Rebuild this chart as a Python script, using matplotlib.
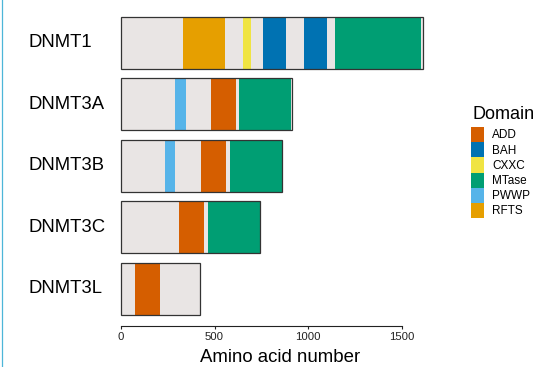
import matplotlib
matplotlib.use("Agg")
import matplotlib.pyplot as plt
from matplotlib.patches import Patch
from matplotlib.lines import Line2D

plt.rcParams['font.family'] = ['Liberation Sans', 'DejaVu Sans']

# ---- data ----
proteins = ["DNMT1", "DNMT3A", "DNMT3B", "DNMT3C", "DNMT3L"]
lengths = [1616, 912, 861, 742, 422]

dom_protein = ["DNMT1", "DNMT1", "DNMT1", "DNMT1", "DNMT1",
               "DNMT3A", "DNMT3A", "DNMT3A",
               "DNMT3B", "DNMT3B", "DNMT3B",
               "DNMT3C", "DNMT3C",
               "DNMT3L"]
dom_name = ["RFTS", "CXXC", "BAH", "BAH", "MTase",
            "PWWP", "ADD", "MTase",
            "PWWP", "ADD", "MTase",
            "ADD", "MTase",
            "ADD"]
dom_start = [331, 650, 760, 979, 1143,
             290, 480, 631,
             233, 430, 583,
             310, 463,
             77]
dom_end = [555, 695, 884, 1102, 1601,
           347, 613, 910,
           290, 562, 861,
           443, 742,
           209]

domain_order = ["ADD", "BAH", "CXXC", "MTase", "PWWP", "RFTS"]
domain_colors = {"ADD": "#D55E00", "BAH": "#0072B2", "CXXC": "#F0E442",
                 "MTase": "#009E73", "PWWP": "#56B4E9", "RFTS": "#E69F00"}
x_ticks = [0, 500, 1000, 1500]

# ---- figure ----
W, H = 547, 367
fig = plt.figure(figsize=(W / 100, H / 100), dpi=100)
ax_l, ax_r = 105.9, 438.5
ax_t, ax_b = 5.8, 325.7
ax = fig.add_axes([ax_l / W, 1 - ax_b / H, (ax_r - ax_l) / W, (ax_b - ax_t) / H])

bar_h = 0.84
ypos = {p: i + 1 for i, p in enumerate(proteins)}

# background bars
ax.barh([ypos[p] for p in proteins], lengths, height=bar_h, left=0,
        color="#E9E5E4", edgecolor="none", zorder=1)
# domains
for p, n, s, e in zip(dom_protein, dom_name, dom_start, dom_end):
    ax.barh(ypos[p], e - s, left=s, height=bar_h, color=domain_colors[n],
            edgecolor="none", zorder=2)
# outlines
ax.barh([ypos[p] for p in proteins], lengths, height=bar_h, left=0,
        fill=False, edgecolor="#333333", linewidth=0.9, zorder=3)

ax.set_ylim(5.6, 0.4)
ax.set_xlim(-80.8, 1696.8)

ax.set_yticks([ypos[p] for p in proteins])
ax.set_yticklabels(proteins, fontsize=13.3)
pad_pt = (ax_l - 29) * 72 / 100
ax.tick_params(axis='y', length=0, pad=pad_pt)
for lab in ax.get_yticklabels():
    lab.set_ha('left')
    lab.set_va('center')

ax.set_xticks(x_ticks)
ax.set_xticklabels([str(t) for t in x_ticks], fontsize=8.2)
ax.tick_params(axis='x', length=2.5, width=0.8, color="#222222", pad=2.2,
               labelcolor="#222222")

for s in ["top", "right", "left"]:
    ax.spines[s].set_visible(False)
ax.spines["bottom"].set_bounds(0, 1500)
ax.spines["bottom"].set_linewidth(0.8)
ax.spines["bottom"].set_color("#222222")
ax.set_facecolor("none")

fig.text(280 / W, 1 - 362.3 / H, "Amino acid number", fontsize=13.4,
         ha='center', va='baseline')

# legend
fig.text(472 / W, 1 - 119.3 / H, "Domain", fontsize=13, ha='left',
         va='baseline')
handles = [Patch(facecolor=domain_colors[d], edgecolor='none', label=d)
           for d in domain_order]
fs = 8.5
fpx = fs * 100 / 72
hh = (15.2 / fpx - 0.245) / 0.65
leg = fig.legend(handles=handles, loc='upper left',
                 bbox_to_anchor=(471 / W, 1 - 127 / H), frameon=False,
                 fontsize=fs,
                 handlelength=13.3 / fpx, handleheight=hh,
                 labelspacing=0.0, handletextpad=8 / fpx, borderpad=0,
                 borderaxespad=0)

# left border line
fig.add_artist(Line2D([2.2 / W, 2.2 / W], [0, 1], transform=fig.transFigure,
                      color="#4DB6D8", linewidth=0.9))

fig.savefig("out.png", dpi=100)
